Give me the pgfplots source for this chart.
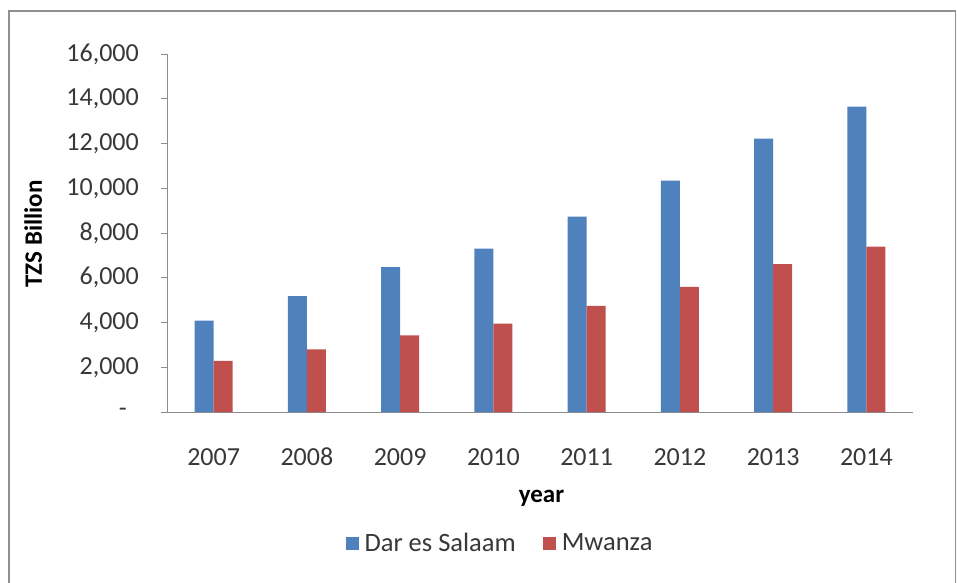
\documentclass[border=0pt]{standalone}
\usepackage{fontspec}
\setmainfont{Carlito}
\usepackage{pgfplots}
\pgfplotsset{compat=1.18}
\definecolor{darblue}{HTML}{4F81BD}
\definecolor{mwred}{HTML}{C0504D}
\definecolor{txt}{HTML}{383838}
\definecolor{axln}{HTML}{8C8C8C}
\definecolor{frm}{HTML}{909090}
\begin{document}
\begin{tikzpicture}[x=1pt,y=1pt]
\useasboundingbox (0,0) rectangle (957,-582);
\fill[white] (0,0) rectangle (957,-582);
\draw[frm, line width=1.5pt] (9,-583) -- (9,-11) -- (955.5,-11) -- (955.5,-583);
\begin{axis}[
  at={(167pt,-412pt)}, anchor=south west,
  scale only axis, width=746pt, height=358pt,
  ybar=0pt, bar width=19pt,
  xmin=-0.5, xmax=7.5, ymin=0, ymax=16000,
  scaled y ticks=false,
  xtick={0,1,2,3,4,5,6,7},
  xticklabels={2007,2008,2009,2010,2011,2012,2013,2014},
  x tick style={draw=none},
  ytick={0,2000,4000,6000,8000,10000,12000,14000,16000},
  yticklabels={{\makebox[20pt][l]{-}},{2,000},{4,000},{6,000},{8,000},{10,000},{12,000},{14,000},{16,000}},
  axis lines*=left,
  axis line style={axln, line width=1pt},
  y tick style={axln, line width=1pt},
  major tick length=6pt, tick align=outside,
  tick label style={font=\fontsize{26}{30}\selectfont, color=txt},
  yticklabel style={anchor=east, inner sep=0pt, xshift=-22pt},
  xticklabel style={anchor=base, inner sep=0pt, yshift=-47pt},
  xlabel={year},
  xlabel style={at={(0.502,-0.2514)}, anchor=base, font=\fontsize{25}{30}\selectfont\bfseries, color=black},
  ylabel={TZS Billion},
  ylabel style={at={(-0.1676,0.497)}, anchor=base, font=\fontsize{25}{30}\selectfont\bfseries, color=black},
  legend columns=2,
  legend style={at={(0.445,-0.366)}, anchor=center, draw=none, fill=none,
    font=\fontsize{26.5}{30}\selectfont, text=txt,
    nodes={inner sep=0pt},
    /tikz/every odd column/.append style={column sep=6pt},
    /tikz/every even column/.append style={column sep=27pt}},
  legend image code/.code={\fill[#1] (0pt,-6.5pt) rectangle (13pt,6.5pt);},
  clip=false,
]
\addplot[fill=darblue, draw=none] coordinates {
  (0,4080) (1,5180) (2,6470) (3,7300) (4,8730) (5,10340) (6,12220) (7,13650)};
\addplot[fill=mwred, draw=none] coordinates {
  (0,2280) (1,2800) (2,3430) (3,3950) (4,4740) (5,5590) (6,6610) (7,7390)};
\legend{Dar es Salaam, Mwanza}
\end{axis}
\end{tikzpicture}
\end{document}
